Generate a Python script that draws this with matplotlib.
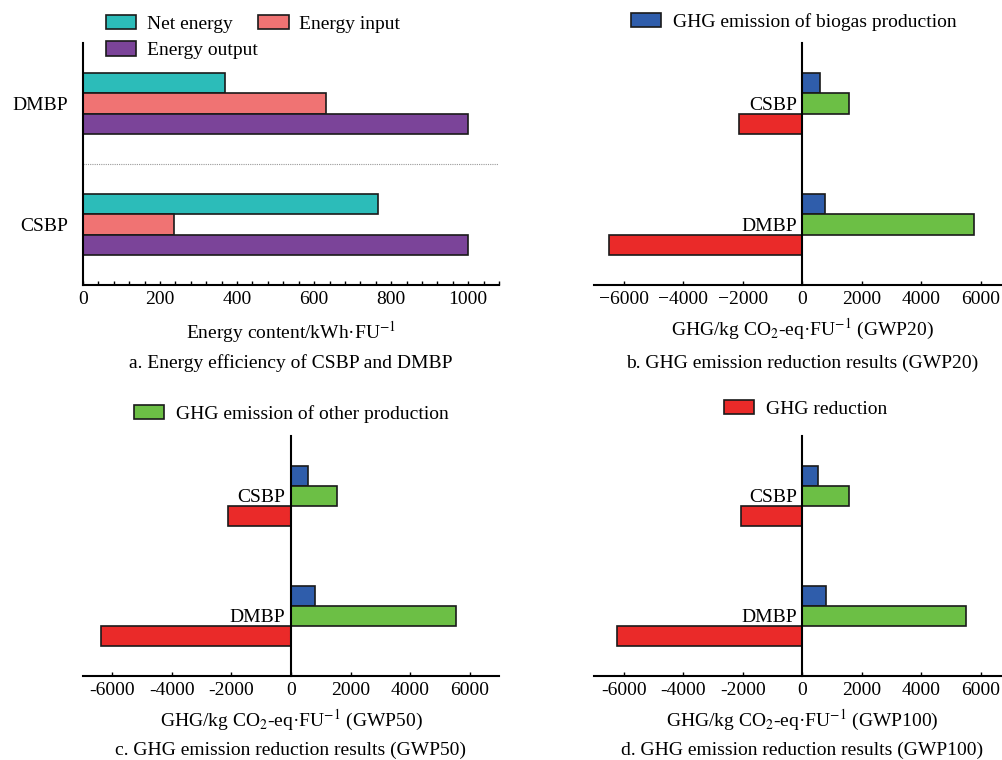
import matplotlib
matplotlib.use("Agg")
import matplotlib.pyplot as plt
from matplotlib.patches import Patch
from matplotlib.ticker import FuncFormatter, MultipleLocator

plt.rcParams["font.family"] = ["Liberation Serif", "DejaVu Serif"]
plt.rcParams["mathtext.fontset"] = "stix"
plt.rcParams["font.size"] = 14

# ---- data ----
energy_cats = ["CSBP", "DMBP"]
net_energy = [765, 369]
energy_input = [235, 630]
energy_output = [1000, 1000]

ghg_cats = ["DMBP", "CSBP"]
ghg_biogas = {
    "GWP20": [752, 594],
    "GWP50": [818, 561],
    "GWP100": [796, 538],
}
ghg_other = {
    "GWP20": [5776, 1578],
    "GWP50": [5541, 1558],
    "GWP100": [5497, 1578],
}
ghg_reduction = {
    "GWP20": [-6490, -2136],
    "GWP50": [-6370, -2120],
    "GWP100": [-6246, -2070],
}

c_net, c_in, c_out = "#2CBCB9", "#F07373", "#7B4499"
c_bio, c_oth, c_red = "#2F5DAB", "#6CBF45", "#EA2A29"
edge = "#1a1a1a"
h = 0.1665

W, H = 1003, 760
fig = plt.figure(figsize=(W / 100, H / 100), dpi=100)


def px(x0, y0, x1, y1):
    return [x0 / W, 1 - y1 / H, (x1 - x0) / W, (y1 - y0) / H]


bar_kw = dict(height=h, edgecolor=edge, linewidth=1.2)

# ---- panel a ----
ax = fig.add_axes(px(83, 43, 499, 285))
ya = range(len(energy_cats))
ax.barh([y + h for y in ya], net_energy, color=c_net, **bar_kw)
ax.barh(list(ya), energy_input, color=c_in, **bar_kw)
ax.barh([y - h for y in ya], energy_output, color=c_out, **bar_kw)
ax.set_xlim(0, 1080)
ax.set_ylim(-0.5, 1.5)
ax.axhline(0.5, color="#999999", linestyle=(0, (1, 1)), linewidth=0.8)
ax.set_yticks(list(ya))
ax.set_yticklabels(energy_cats)
ax.xaxis.set_major_locator(MultipleLocator(200))
ax.xaxis.set_minor_locator(MultipleLocator(40))
ax.tick_params(axis="x", which="both", direction="in", length=3, width=1, pad=4)
ax.tick_params(axis="y", length=0, pad=11)
for s in ["top", "right"]:
    ax.spines[s].set_visible(False)
for s in ["left", "bottom"]:
    ax.spines[s].set_linewidth(1.5)
ax.set_xlabel("Energy content/kWh·FU$^{-1}$", labelpad=8)

handles = [
    Patch(facecolor=c_net, edgecolor=edge, linewidth=1.2, label="Net energy"),
    Patch(facecolor=c_out, edgecolor=edge, linewidth=1.2, label="Energy output"),
    Patch(facecolor=c_in, edgecolor=edge, linewidth=1.2, label="Energy input"),
]
fig.legend(handles=handles, loc="upper left", bbox_to_anchor=(96 / W, 1 - 5 / H),
           ncol=2, frameon=False, borderpad=0, handlelength=1.55, handleheight=0.75,
           handletextpad=0.55, columnspacing=0.05, labelspacing=0.45)


# ---- panels b, c, d ----
def ghg_panel(rect, key, unicode_minus):
    ax = fig.add_axes(px(*rect))
    yg = range(len(ghg_cats))
    ax.barh([y + h for y in yg], ghg_biogas[key], color=c_bio, **bar_kw)
    ax.barh(list(yg), ghg_other[key], color=c_oth, **bar_kw)
    ax.barh([y - h for y in yg], ghg_reduction[key], color=c_red, **bar_kw)
    ax.set_xlim(-7000, 7000)
    ax.set_ylim(-0.5, 1.5)
    ax.set_yticks(list(yg))
    ax.set_yticklabels(ghg_cats)
    ax.spines["left"].set_position(("data", 0))
    for s in ["top", "right"]:
        ax.spines[s].set_visible(False)
    for s in ["left", "bottom"]:
        ax.spines[s].set_linewidth(1.5)
    ax.set_xticks([-6000, -4000, -2000, 0, 2000, 4000, 6000])
    minus = "\u2212" if unicode_minus else "-"
    ax.xaxis.set_major_formatter(FuncFormatter(
        lambda v, p: (minus + str(int(abs(v)))) if v < 0 else str(int(v))))
    ax.tick_params(axis="x", direction="in", length=3, width=1, pad=4)
    ax.tick_params(axis="y", length=0, pad=4)
    ax.set_xlabel("GHG/kg CO$_2$-eq·FU$^{-1}$ (" + key + ")", labelpad=7)
    return ax


ghg_panel((594.3, 43, 1010.3, 285), "GWP20", True)
ghg_panel((82.7, 435.7, 499.3, 676), "GWP50", False)
ghg_panel((594.3, 435.7, 1010.3, 676), "GWP100", False)

leg_kw = dict(loc="upper left", frameon=False, borderpad=0, handlelength=1.55,
              handleheight=0.75, handletextpad=0.6)
fig.legend(handles=[Patch(facecolor=c_bio, edgecolor=edge, linewidth=1.2,
                          label="GHG emission of biogas production")],
           bbox_to_anchor=(621 / W, 1 - 3 / H), **leg_kw)
fig.legend(handles=[Patch(facecolor=c_oth, edgecolor=edge, linewidth=1.2,
                          label="GHG emission of other production")],
           bbox_to_anchor=(124 / W, 1 - 395 / H), **leg_kw)
fig.legend(handles=[Patch(facecolor=c_red, edgecolor=edge, linewidth=1.2,
                          label="GHG reduction")],
           bbox_to_anchor=(714 / W, 1 - 390 / H), **leg_kw)

# ---- captions ----
captions = [
    (291, 368, "a. Energy efficiency of CSBP and DMBP"),
    (802, 368, "b. GHG emission reduction results (GWP20)"),
    (291, 755, "c. GHG emission reduction results (GWP50)"),
    (802, 755, "d. GHG emission reduction results (GWP100)"),
]
for cx, cy, txt in captions:
    fig.text(cx / W, 1 - cy / H, txt, ha="center", va="baseline")

fig.savefig("out.png", dpi=100)
